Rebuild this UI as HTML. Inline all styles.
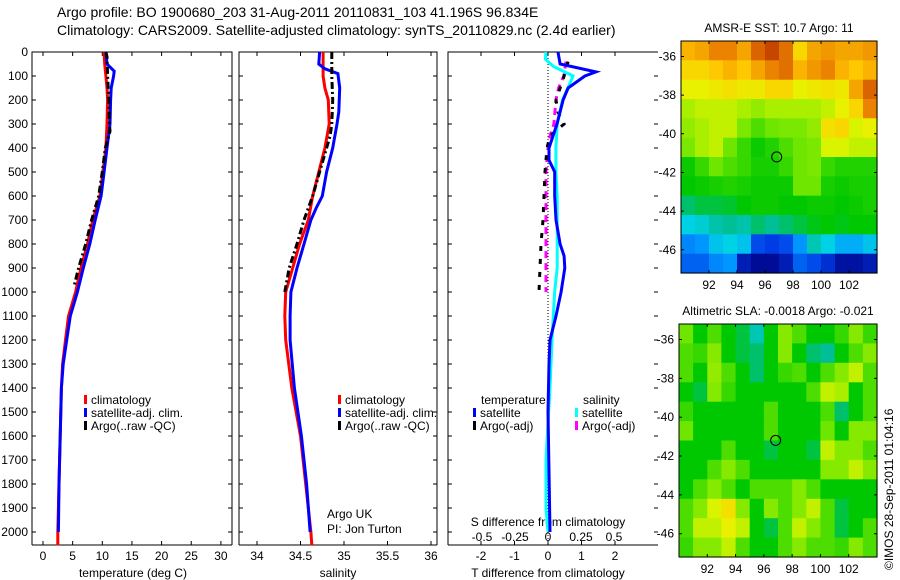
<!DOCTYPE html>
<html><head><meta charset="utf-8">
<style>
html,body{margin:0;padding:0;background:#fff;}
svg{display:block;font-family:"Liberation Sans",sans-serif;}
text{font-size:12px;fill:#000;}
</style></head>
<body>
<svg id="fig" width="900" height="580" viewBox="0 0 900 580" xmlns="http://www.w3.org/2000/svg">
<text x="57" y="17" style="font-size:14px">Argo profile: BO 1900680_203 31-Aug-2011 20110831_103 41.196S 96.834E</text>
<text x="57" y="35" style="font-size:14px">Climatology: CARS2009. Satellite-adjusted climatology: synTS_20110829.nc (2.4d earlier)</text>
<g id="p1"></g>
<g id="p2"></g>
<g id="p3"></g>
<g id="m1"></g>
<g id="m2"></g>
<text x="327" y="518">Argo UK</text>
<text x="327" y="533">PI: Jon Turton</text>
<text transform="translate(893,570) rotate(-90)" x="0" y="0">©IMOS 28-Sep-2011 01:04:16</text>
</svg>
<script>
// ---------- data ----------
const climTDepth=[0,50,100,150,200,300,400,500,600,700,800,900,1000,1100,1200,1300,1400,1600,1800,2000,2055];
const climT=[10.3,10.4,10.6,10.8,10.9,10.8,10.6,10.1,9.6,8.4,7.5,6.4,5.5,4.3,3.8,3.3,3.1,2.9,2.7,2.5,2.5];
const satTDepth=[0,50,80,100,150,200,300,400,500,600,700,800,900,1000,1100,1200,1300,1400,1600,1800,2000];
const satT=[10.6,10.8,12.0,11.9,11.5,11.4,11.3,10.8,10.3,9.8,8.8,7.9,6.8,5.8,4.6,4.0,3.4,3.1,2.9,2.7,2.6];
const argoTDepth=[0,20,100,200,300,330,400,500,600,700,800,900,980];
const argoT=[10.6,10.8,10.9,11.1,11.2,11.3,10.5,10.0,9.4,8.2,7.2,6.0,5.2];

const climSDepth=[0,100,150,200,300,400,500,600,700,800,900,1000,1100,1200,1400,1600,1800,2000,2055];
const climS=[34.76,34.76,34.78,34.82,34.83,34.78,34.71,34.64,34.59,34.49,34.41,34.33,34.32,34.33,34.40,34.50,34.56,34.62,34.63];
const satSDepth=[0,50,70,90,150,250,300,400,500,600,650,700,800,900,1000,1100,1200,1400,1600,1800,2000];
const satS=[34.72,34.71,34.78,34.93,34.95,34.94,34.92,34.87,34.80,34.75,34.68,34.62,34.54,34.46,34.39,34.38,34.38,34.43,34.51,34.57,34.61];
const argoSDepth=[0,100,200,300,350,400,500,600,700,800,900,1000];
const argoS=[34.86,34.86,34.87,34.86,34.84,34.80,34.72,34.64,34.54,34.46,34.37,34.32];

const dTSatDepth=[0,50,83,100,150,200,300,400,450,500,600,700,800,850,900,1000,1100,1200,1300,1500,2000];
const dTSat=[0.3,0.36,1.43,1.1,0.6,0.45,0.27,0.03,0.03,0.2,0.2,0.24,0.36,0.48,0.5,0.39,0.24,0.06,0.03,0.0,0.06];
const dSSatDepth=[0,30,60,100,150,200,300,400,500,600,800,900,1000,1100,1200,1400,1600,1700,1900,2000];
const dSSat=[-0.015,-0.02,0.04,0.19,0.15,0.11,0.07,0.06,0.06,0.07,0.07,0.07,0.05,0.04,0.03,0.015,-0.005,-0.015,-0.015,0.0];
const dTArgoDepth=[40,100,150,200,250,300,350,400,500,600,700,800,900,1000];
const dTArgo=[0.6,0.48,0.36,0.24,0.3,0.48,0.06,-0.03,-0.09,-0.12,-0.15,-0.21,-0.24,-0.27];
const dSArgoDepth=[40,100,150,200,300,350,400,500,600,700,800,900,1000];
const dSArgo=[0.136,0.12,0.08,0.06,0.045,0.015,0.0,-0.015,-0.015,-0.015,-0.015,-0.015,-0.015];

const depthTicks=[0,100,200,300,400,500,600,700,800,900,1000,1100,1200,1300,1400,1500,1600,1700,1800,1900,2000];
const tempTicks=[0,5,10,15,20,25,30];
const salTicks=[34,34.5,35,35.5,36];
const salTickLabels=["34","34.5","35","35.5","36"];
const dTTicks=[-2,-1,0,1,2];
const dSTicks=[-0.5,-0.25,0,0.25,0.5];
const dSTickLabels=["-0.5","-0.25","0","0.25","0.5"];

const lonTicks=[92,94,96,98,100,102];
const latTicks=[-36,-38,-40,-42,-44,-46];
const argoLon=96.834, argoLat=-41.196;
const sstGrid=[
[0.78,0.8,0.85,0.85,0.8,0.9,0.95,0.88,0.72,0.8,0.82,0.8,0.8,0.82],
[0.72,0.72,0.75,0.78,0.75,0.8,0.85,0.88,0.78,0.82,0.85,0.78,0.75,0.78],
[0.66,0.66,0.68,0.7,0.68,0.68,0.72,0.72,0.66,0.68,0.7,0.68,0.8,0.9],
[0.6,0.62,0.62,0.62,0.6,0.58,0.6,0.6,0.6,0.6,0.62,0.66,0.72,0.85],
[0.58,0.6,0.62,0.62,0.56,0.52,0.55,0.56,0.56,0.58,0.7,0.72,0.64,0.66],
[0.56,0.6,0.62,0.55,0.5,0.46,0.48,0.52,0.55,0.56,0.64,0.64,0.62,0.62],
[0.46,0.5,0.55,0.52,0.5,0.47,0.47,0.5,0.55,0.56,0.5,0.48,0.48,0.48],
[0.45,0.46,0.47,0.48,0.47,0.46,0.46,0.46,0.55,0.55,0.47,0.46,0.47,0.47],
[0.4,0.42,0.42,0.43,0.45,0.46,0.46,0.45,0.45,0.46,0.46,0.45,0.46,0.47],
[0.3,0.32,0.36,0.38,0.36,0.4,0.38,0.4,0.42,0.44,0.45,0.44,0.45,0.45],
[0.2,0.22,0.28,0.3,0.28,0.12,0.1,0.12,0.22,0.35,0.3,0.25,0.25,0.28],
[0.15,0.15,0.2,0.22,0.05,0.02,0.02,0.05,0.15,0.12,0.08,0.03,0.03,0.05]];
const slaGrid=[
[0.55,0.45,0.52,0.45,0.42,0.35,0.45,0.57,0.52,0.45,0.45,0.5,0.57,0.5],
[0.52,0.5,0.57,0.45,0.42,0.4,0.45,0.57,0.45,0.4,0.38,0.45,0.52,0.57],
[0.52,0.45,0.58,0.52,0.45,0.4,0.45,0.5,0.52,0.45,0.52,0.57,0.62,0.52],
[0.45,0.42,0.57,0.5,0.45,0.45,0.45,0.45,0.45,0.52,0.62,0.6,0.45,0.52],
[0.5,0.45,0.45,0.45,0.45,0.45,0.52,0.45,0.45,0.45,0.52,0.4,0.45,0.52],
[0.55,0.45,0.45,0.45,0.45,0.45,0.52,0.45,0.45,0.45,0.55,0.45,0.57,0.57],
[0.45,0.45,0.45,0.52,0.45,0.45,0.42,0.45,0.45,0.42,0.62,0.57,0.57,0.52],
[0.45,0.45,0.52,0.57,0.52,0.45,0.45,0.45,0.45,0.45,0.57,0.57,0.62,0.57],
[0.45,0.52,0.57,0.52,0.45,0.52,0.52,0.52,0.57,0.52,0.45,0.45,0.45,0.45],
[0.52,0.57,0.64,0.7,0.57,0.45,0.57,0.52,0.57,0.62,0.52,0.42,0.45,0.45],
[0.52,0.62,0.62,0.66,0.62,0.45,0.42,0.52,0.62,0.57,0.52,0.42,0.45,0.52],
[0.5,0.57,0.57,0.62,0.52,0.45,0.45,0.52,0.57,0.52,0.52,0.5,0.57,0.52]];

// ---------- helpers ----------
const NS="http://www.w3.org/2000/svg";
function mk(parent,tag,attrs,txt){const e=document.createElementNS(NS,tag);for(const k in attrs)e.setAttribute(k,attrs[k]);if(txt!==undefined)e.textContent=txt;parent.appendChild(e);return e;}
const TOP=52, PX_PER_M=0.24, BOT=545;
const yD=d=>TOP+d*PX_PER_M;
const xT=t=>43+t*5.93;
const xS=s=>257+(s-34)*87;
const xDT=v=>548+v*33.5;
const xDS=v=>548+v*132;

function panelFrame(g,x0,x1,rightBorder){
  const r=mk(g,'path',{d:`M${x0},${BOT}V${TOP}H${x1}`+(rightBorder?`V${BOT}`:'')+`M${x0},${BOT}H${x1}`,fill:'none',stroke:'#000','stroke-width':1});
  
  depthTicks.forEach(d=>{
    const y=yD(d);
    const t=mk(g,'path',{d:`M${x0},${y}h4M${x1},${y}h-4`,stroke:'#000'});
    
  });
}
function xticks(g,vals,labels,fx){
  vals.forEach((v,i)=>{
    const x=fx(v);
    const t=mk(g,'path',{d:`M${x},${BOT}v-4M${x},${TOP}v4`,stroke:'#000'});
    
    const l=mk(g,'text',{x:x,y:BOT+15,'text-anchor':'middle'},labels[i]);
    
  });
}
function line(g,depths,vals,fx,color,dash,name){
  const pts=depths.map((d,i)=>fx(vals[i]).toFixed(1)+','+yD(d).toFixed(1)).join(' ');
  const a={points:pts,fill:'none',stroke:color,'stroke-width':3};
  if(dash)a['stroke-dasharray']=dash;
  const p=mk(g,'polyline',a);
  
}
function legend(g,x,y,items,name){
  items.forEach((it,i)=>{
    const m=mk(g,'rect',{x:x,y:y+i*13-5,width:3,height:9,fill:it[1]});
    
    const t=mk(g,'text',{x:x+7,y:y+i*13+4},it[0]);
    
  });
}

// ---------- panel 1 ----------
const p1=document.getElementById('p1');
panelFrame(p1,32,232,true);
depthTicks.forEach(d=>{
  const l=mk(p1,'text',{x:28,y:yD(d)+4,'text-anchor':'end'},String(d));
  
});
xticks(p1,tempTicks,tempTicks.map(String),xT);
const t1=mk(p1,'text',{x:133,y:577,'text-anchor':'middle'},'temperature (deg C)');

line(p1,climTDepth,climT,xT,'#ff0000',null,'climatology-temp-line');
line(p1,satTDepth,satT,xT,'#0000ff',null,'satellite-temp-line');
line(p1,argoTDepth,argoT,xT,'#000000','7,3,2,3','argo-temp-line');
legend(p1,84,400,[['climatology','#f00'],['satellite-adj. clim.','#00f'],['Argo(..raw -QC)','#000']],'temp-legend');

// ---------- panel 2 ----------
const p2=document.getElementById('p2');
panelFrame(p2,239,437,true);
xticks(p2,salTicks,salTickLabels,xS);
const t2=mk(p2,'text',{x:338,y:577,'text-anchor':'middle'},'salinity');

line(p2,climSDepth,climS,xS,'#ff0000',null,'climatology-sal-line');
line(p2,satSDepth,satS,xS,'#0000ff',null,'satellite-sal-line');
line(p2,argoSDepth,argoS,xS,'#000000','7,3,2,3','argo-sal-line');
legend(p2,338,400,[['climatology','#f00'],['satellite-adj. clim.','#00f'],['Argo(..raw -QC)','#000']],'sal-legend');

// ---------- panel 3 ----------
const p3=document.getElementById('p3');
panelFrame(p3,448,658,false);
xticks(p3,dTTicks,dTTicks.map(String),xDT);
const z=mk(p3,'line',{x1:548,y1:TOP,x2:548,y2:BOT,stroke:'#000','stroke-dasharray':'1,2'});

const t3=mk(p3,'text',{x:548,y:577,'text-anchor':'middle'},'T difference from climatology');

const t4=mk(p3,'text',{x:548,y:526,'text-anchor':'middle'},'S difference from climatology');

dSTicks.forEach((v,i)=>{
  const l=mk(p3,'text',{x:xDS(v),y:541,'text-anchor':'middle'},dSTickLabels[i]);
  
});
line(p3,dSArgoDepth,dSArgo,xDS,'#ff00ff','7,5','argo-sal-diff-line');
line(p3,dTArgoDepth,dTArgo,xDT,'#000000','5,8','argo-temp-diff-line');
line(p3,dSSatDepth,dSSat,xDS,'#00ffff',null,'sat-sal-diff-line');
line(p3,dTSatDepth,dTSat,xDT,'#0000ff',null,'sat-temp-diff-line');
const lt=mk(p3,'text',{x:481,y:404},'temperature');

const ls=mk(p3,'text',{x:583,y:404},'salinity');

legend(p3,473,413,[['satellite','#00f'],['Argo(-adj)','#000']],'diff-temp-legend');
legend(p3,575,413,[['satellite','#0ff'],['Argo(-adj)','#f0f']],'diff-sal-legend');

// ---------- maps ----------
const stops=[[0,[0,0,130]],[0.1,[0,60,230]],[0.22,[0,150,255]],[0.3,[0,210,230]],[0.38,[0,190,150]],[0.45,[0,200,0]],[0.55,[110,230,0]],[0.65,[230,245,0]],[0.75,[255,200,0]],[0.85,[235,130,0]],[1,[180,40,0]]];
function cmap(v){
  v=Math.max(0,Math.min(1,v));
  for(let i=1;i<stops.length;i++){if(v<=stops[i][0]){const a=stops[i-1],b=stops[i],f=(v-a[0])/(b[0]-a[0]);
    return 'rgb('+a[1].map((c,k)=>Math.round(c+(b[1][k]-c)*f)).join(',')+')';}}
  return 'rgb(180,40,0)';
}
function drawMap(id,x0,x1,y0,y1,grid,title,name){
  const g=document.getElementById(id);
  const lonMin=90,lonMax=104,latTop=-35.2,latBot=-47.2;
  const fx=lon=>x0+(lon-lonMin)/(lonMax-lonMin)*(x1-x0);
  const fy=lat=>y0+(latTop-lat)/(latTop-latBot)*(y1-y0);
  grid.forEach((row,r)=>row.forEach((v,c)=>{
    const lon=lonMin+c, lat=latTop-r;
    const cx=fx(lon), cy=fy(lat);
    const cell=mk(g,'rect',{x:cx.toFixed(1),y:cy.toFixed(1),width:(fx(lon+1)-cx+0.6).toFixed(1),height:(fy(lat-1)-cy+0.6).toFixed(1),fill:cmap(v)});
    
  }));
  const fr=mk(g,'rect',{x:x0,y:y0,width:x1-x0,height:y1-y0,fill:'none',stroke:'#000'});
  
  lonTicks.forEach(l=>{
    const x=fx(l);
    const tk=mk(g,'path',{d:`M${x},${y1}v-3M${x},${y0}v3`,stroke:'#000'});
    
    const tl=mk(g,'text',{x:x,y:y1+16,'text-anchor':'middle'},String(l));
    
  });
  latTicks.forEach(l=>{
    const y=fy(l);
    const tk=mk(g,'path',{d:`M${x0},${y}h3M${x1},${y}h-3`,stroke:'#000'});
    
    const tl=mk(g,'text',{x:x0-5,y:y+4,'text-anchor':'end'},String(l));
    
  });
  const c=mk(g,'circle',{cx:fx(argoLon),cy:fy(argoLat),r:5,fill:'none',stroke:'#000','stroke-width':1});
  
  const t=mk(g,'text',{x:(x0+x1)/2,y:y0-9,'text-anchor':'middle'},title);
  
}
drawMap('m1',681,877,41,273,sstGrid,'AMSR-E SST: 10.7 Argo: 11','sst-map');
drawMap('m2',679,877,324,557,slaGrid,'Altimetric SLA: -0.0018 Argo: -0.021','sla-map');
</script>
</body></html>
